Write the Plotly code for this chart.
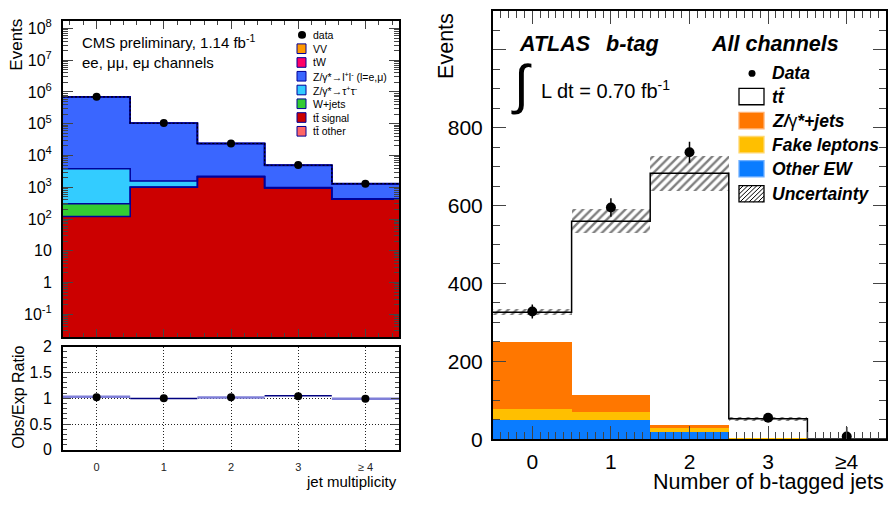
import numpy as np
import plotly.graph_objects as go

W, H = 888, 506

# ---------------- Left panel (CMS) data ----------------
jet_bins = ["0", "1", "2", "3", "≥ 4"]
cms_data = [7.1e5, 1.05e5, 2.4e4, 5.0e3, 1.3e3]
tt_signal = [120, 1000, 2150, 950, 420]
w_jets = [185, 25, 10, 5, 2]
z_tautau = [3500, 550, 60, 25, 10]
z_ll = [7.0e5, 1.02e5, 2.15e4, 3.9e3, 850]
tw = [40, 60, 60, 25, 10]
vv = [30, 15, 8, 3, 1]
tt_other = [3, 10, 20, 15, 10]
ratio_obs = [1.02, 1.00, 1.02, 1.04, 0.99]
ratio_mc = [1.03, 0.995, 1.015, 1.05, 0.99]

# ---------------- Right panel (ATLAS) data ----------------
btag_bins = ["0", "1", "2", "3", "≥4"]
atlas_data = [328, 595, 737, 55, 7]
atlas_err_up = [18, 24, 27, 8, 24]
atlas_err_dn = [18, 24, 27, 8, 7]
other_ew = [50, 50, 20, 0.5, 0]
fake_lep = [29, 19, 10, 3, 0]
z_jets = [171, 44, 6, 1.0, 0.2]
ttbar = [76, 447, 647, 48, 0.3]
mc_unc = [8, 31, 45, 5, 0.5]

FONT = "Liberation Sans, Arial, Helvetica, sans-serif"


def px(x):
    return x / W


def py(y):
    return 1 - y / H


def step_xy(vals):
    edges = np.arange(len(vals) + 1) - 0.5
    xs = np.repeat(edges, 2)[1:-1]
    ys = np.repeat(np.asarray(vals, float), 2)
    return xs, ys


fig = go.Figure()

# ---------- left main: stacked (overlay of cumulative sums) ----------
left_stack = [
    ("tt signal", tt_signal, "#cc0000"),
    ("W+jets", w_jets, "#33cc33"),
    ("Z tautau", z_tautau, "#33ccff"),
    ("Z ll", z_ll, "#3a66ff"),
    ("tW", tw, "#ff0066"),
    ("VV", vv, "#ff9900"),
    ("tt other", tt_other, "#ff6666"),
]
xb = np.arange(len(jet_bins))
cums = np.cumsum(np.array([s[1] for s in left_stack], float), axis=0)
for i in range(len(left_stack) - 1, -1, -1):
    fig.add_trace(go.Bar(x=xb, y=cums[i], width=1.0, marker=dict(color=left_stack[i][2], line=dict(width=0)),
                         xaxis="x", yaxis="y", hoverinfo="skip"))
for i in range(len(left_stack)):
    sx, sy = step_xy(cums[i])
    fig.add_trace(go.Scatter(x=sx, y=sy, mode="lines", line=dict(color="#000099", width=1.5),
                             xaxis="x", yaxis="y", hoverinfo="skip"))
sx, sy = step_xy(cums[-1])
fig.add_trace(go.Scatter(x=sx, y=sy, mode="lines", line=dict(color="black", width=1.2, dash="2px,2px"),
                         xaxis="x", yaxis="y", hoverinfo="skip"))
fig.add_trace(go.Scatter(x=xb, y=cms_data, mode="markers", marker=dict(color="black", size=8),
                         xaxis="x", yaxis="y"))

# ---------- left ratio ----------
seg_colors = ["#7f7fd8", "#000080", "#7f7fd8", "#000080", "#7f7fd8"]
seg_widths = [2.5, 1.5, 2.5, 1.5, 2.5]
for i, r in enumerate(ratio_mc):
    fig.add_trace(go.Scatter(x=[xb[i] - 0.5, xb[i] + 0.5], y=[r, r], mode="lines",
                             line=dict(color=seg_colors[i], width=seg_widths[i]),
                             xaxis="x2", yaxis="y2", hoverinfo="skip"))
fig.add_trace(go.Scatter(x=xb, y=ratio_obs, mode="markers", marker=dict(color="black", size=8),
                         xaxis="x2", yaxis="y2"))

# ---------- right panel ----------
xr = np.arange(len(btag_bins))
total = np.array(other_ew) + np.array(fake_lep) + np.array(z_jets) + np.array(ttbar)
fig.add_trace(go.Bar(x=xr, y=2 * np.array(mc_unc), base=total - np.array(mc_unc), width=1.0,
                     marker=dict(color="rgba(0,0,0,0)", line=dict(width=0),
                                 pattern=dict(shape="/", fgcolor="black", bgcolor="rgba(0,0,0,0)",
                                              size=6, solidity=0.4, fillmode="overlay")),
                     xaxis="x3", yaxis="y3", hoverinfo="skip"))
right_stack = [
    (other_ew, "#0a7cff"),
    (fake_lep, "#ffbf00"),
    (z_jets, "#ff7700"),
]
rc = np.cumsum(np.array([s[0] for s in right_stack], float), axis=0)
for i in range(len(right_stack) - 1, -1, -1):
    fig.add_trace(go.Bar(x=xr, y=rc[i], width=1.0, marker=dict(color=right_stack[i][1], line=dict(width=0)),
                         xaxis="x3", yaxis="y3", hoverinfo="skip"))
sx, sy = step_xy(total)
fig.add_trace(go.Scatter(x=sx, y=sy, mode="lines", line=dict(color="black", width=1.5),
                         xaxis="x3", yaxis="y3", hoverinfo="skip"))
fig.add_trace(go.Scatter(x=xr, y=atlas_data, mode="markers",
                         marker=dict(color="black", size=10),
                         error_y=dict(type="data", symmetric=False, array=atlas_err_up,
                                      arrayminus=atlas_err_dn, thickness=1.5, width=0, color="black"),
                         xaxis="x3", yaxis="y3"))

# ---------- axes ----------
axline = dict(showline=True, linecolor="black", linewidth=2, zeroline=False, showgrid=False)
log_major = [10.0 ** k for k in range(-1, 9)]
log_text = ["10<sup>-1</sup>", "1", "10"] + ["10<sup>%d</sup>" % k for k in range(2, 9)]
log_minor = [m * 10.0 ** k for k in range(-2, 9) for m in range(2, 10)]

layout = dict(
    width=W, height=H, margin=dict(l=0, r=0, t=0, b=0),
    paper_bgcolor="white", plot_bgcolor="white", showlegend=False,
    barmode="overlay", bargap=0,
    font=dict(family=FONT, color="black"),
    xaxis=dict(domain=[px(63), px(399)], anchor="y", range=[-0.5, 4.5], tickmode="linear", tick0=0, dtick=1,
               showticklabels=False, ticks="inside", ticklen=8, tickwidth=1, mirror="ticks",
               minor=dict(tickmode="linear", tick0=0, dtick=0.2, ticks="inside", ticklen=4, tickwidth=1),
               **axline),
    yaxis=dict(domain=[py(342), py(13)], anchor="x", type="log", range=[-1.72, 8.25],
               tickmode="array", tickvals=log_major, ticktext=log_text, ticks="inside", ticklen=10,
               tickwidth=1, mirror="ticks", tickfont=dict(size=16), ticklabelstandoff=6,
               minor=dict(tickmode="array", tickvals=log_minor, ticks="inside", ticklen=5, tickwidth=1),
               **axline),
    xaxis2=dict(domain=[px(63), px(399)], anchor="y2", range=[-0.5, 4.5], tickmode="array",
                tickvals=list(xb), ticktext=jet_bins, ticks="", tickfont=dict(size=11, color="#222"),
                ticklabelstandoff=6, showline=True, linecolor="black", linewidth=2, mirror=True,
                zeroline=False, showgrid=True, gridcolor="#222", griddash="1px,2px", gridwidth=1),
    yaxis2=dict(domain=[py(459), py(352)], anchor="x2", range=[0, 2], tickmode="linear", tick0=0, dtick=0.5,
                ticks="inside", ticklen=8, tickwidth=1, mirror="ticks", tickfont=dict(size=16),
                ticklabelstandoff=6, showline=True, linecolor="black", linewidth=2, zeroline=False,
                showgrid=True, gridcolor="#222", griddash="1px,2px", gridwidth=1,
                minor=dict(tickmode="linear", tick0=0, dtick=0.1, ticks="inside", ticklen=4, tickwidth=1,
                           showgrid=False)),
    xaxis3=dict(domain=[px(493), px(886)], anchor="y3", range=[-0.5, 4.5], tickmode="array",
                tickvals=list(xr), ticktext=btag_bins, ticks="inside", ticklen=13, tickwidth=1.2,
                mirror="ticks", tickfont=dict(size=21), ticklabelstandoff=3,
                minor=dict(tickmode="linear", tick0=0, dtick=0.1, ticks="inside", ticklen=7, tickwidth=1),
                **axline),
    yaxis3=dict(domain=[py(448), py(3)], anchor="x3", range=[0, 1100], tickmode="array",
                tickvals=[0, 200, 400, 600, 800, 1000], ticktext=["0", "200", "400", "600", "800", ""],
                ticks="inside", ticklen=13, tickwidth=1.2, mirror="ticks", tickfont=dict(size=21),
                ticklabelstandoff=4,
                minor=dict(tickmode="linear", tick0=0, dtick=50, ticks="inside", ticklen=7, tickwidth=1),
                **axline),
)
fig.update_layout(**layout)

# ---------- text annotations ----------
ann = []


def text(x, y, s, size, xanchor="left", yanchor="middle", angle=0, **kw):
    ann.append(dict(x=px(x), y=py(y), xref="paper", yref="paper", text=s, showarrow=False,
                    xanchor=xanchor, yanchor=yanchor, textangle=angle,
                    font=dict(size=size, family=FONT, color="black"), **kw))


text(17, 9, "Events", 17, xanchor="center", yanchor="top", angle=-90)
text(19, 405, "Obs/Exp Ratio", 16, xanchor="center", yanchor="middle", angle=-90)
text(399, 492, "jet multiplicity", 15, xanchor="right")
text(80, 35, "CMS preliminary, 1.14 fb<sup>-1</sup>", 15)
text(80, 57, "ee, μμ, eμ channels", 15)

text(446, 3, "Events", 21.5, xanchor="center", yanchor="top", angle=-90)
text(886, 493, "Number of b-tagged jets", 21.5, xanchor="right")
text(517, 37, "<b><i>ATLAS</i></b>", 21.5)
text(604, 37, "<b><i>b-tag</i></b>", 21.5)
text(709, 37, "<b><i>All channels</i></b>", 21.5)
text(521, 80, "∫", 54, xanchor="center")
text(539, 85, "L dt = 0.70 fb<sup>-1</sup>", 20)

# ---------- manual legends ----------
shapes = []
left_leg = [
    ("VV", "#ff9900"),
    ("tW", "#ff0066"),
    ("Z/γ*→l<sup>+</sup>l<sup>-</sup> (l=e,μ)", "#3a66ff"),
    ("Z/γ*→τ<sup>+</sup>τ<sup>-</sup>", "#33ccff"),
    ("W+jets", "#33cc33"),
    ("tt\u0304 signal", "#cc0000"),
    ("tt\u0304 other", "#ff6666"),
]
y0 = 28
dy = 14.3
shapes.append(dict(type="circle", xref="paper", yref="paper", x0=px(298), x1=px(306), y0=py(y0 + 4), y1=py(y0 - 4),
                   fillcolor="black", line=dict(width=0)))
text(311, y0, "data", 10.5)
for k, (lab, col) in enumerate(left_leg):
    yc = y0 + dy * (k + 1)
    shapes.append(dict(type="rect", xref="paper", yref="paper", x0=px(297), x1=px(306), y0=py(yc + 5),
                       y1=py(yc - 5), fillcolor=col, line=dict(color="#000099", width=1)))
    text(311, yc, lab, 10.5)

ry = [68, 92, 117, 142, 167, 193]
shapes.append(dict(type="circle", xref="paper", yref="paper", x0=px(748.5), x1=px(755.5), y0=py(ry[0] + 3.5),
                   y1=py(ry[0] - 3.5), fillcolor="black", line=dict(width=0)))
text(770, ry[0], "<b><i>Data</i></b>", 17.5)
right_leg = [
    ("<b><i>tt\u0304</i></b>", "white", "black"),
    ("<b><i>Z/</i></b>γ<b><i>*+jets</i></b>", "#ff7700", "#ffb070"),
    ("<b><i>Fake leptons</i></b>", "#ffbf00", "#ffd870"),
    ("<b><i>Other EW</i></b>", "#0a7cff", "#70b0ff"),
    ("<b><i>Uncertainty</i></b>", "white", "black"),
]
for k, (lab, col, lc) in enumerate(right_leg):
    yc = ry[k + 1]
    shapes.append(dict(type="rect", xref="paper", yref="paper", x0=px(739), x1=px(764), y0=py(yc + 8.5),
                       y1=py(yc - 8.5), fillcolor=col, line=dict(color=lc, width=1.3)))
    text(770, yc, lab, 17.5)

bx0, bx1 = 739, 764
yc = ry[-1]
yb, yt = yc + 8.5, yc - 8.5
hgt = yb - yt
path = ""
c = bx0 - hgt
while c < bx1:
    t0 = max(0, bx0 - c)
    t1 = min(hgt, bx1 - c)
    if t1 > t0:
        path += "M%.5f,%.5f L%.5f,%.5f " % (px(c + t0), py(yb - t0), px(c + t1), py(yb - t1))
    c += 4.5
shapes.append(dict(type="path", xref="paper", yref="paper", path=path, line=dict(color="black", width=1)))

fig.update_layout(annotations=ann, shapes=shapes)
fig.write_html("out.html", config={"displayModeBar": False},
               post_script="document.body.style.margin='0';document.body.style.overflow='hidden';")
